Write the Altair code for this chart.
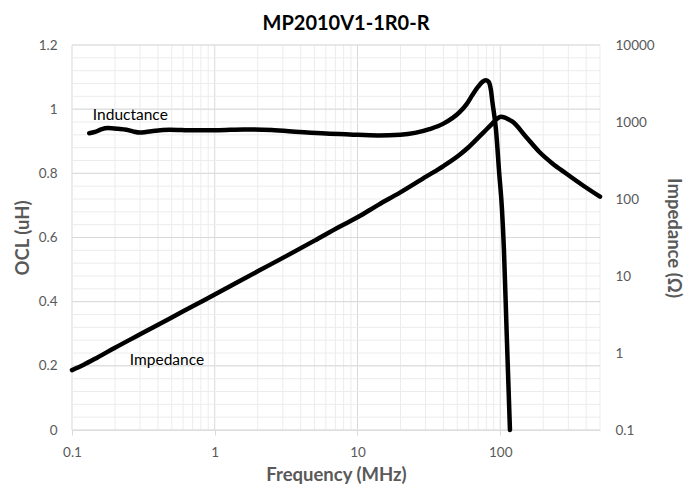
import altair as alt
import pandas as pd

# ---- data ----
ind_freq = [0.132, 0.145, 0.16, 0.179, 0.21, 0.241, 0.27, 0.299, 0.33, 0.37, 0.484, 0.705,
            1.03, 1.6, 2.5, 3.93, 6.0, 8.8, 14.0, 20.0, 31.9, 40.0, 51.7, 58.0, 64.0, 70.0,
            75.0, 79.0, 83.0, 86.0, 88.3, 93.3, 98.4, 102.8, 106.2, 111.0, 117.0]
ind_ocl = [0.925, 0.929, 0.937, 0.941, 0.939, 0.936, 0.93, 0.927, 0.929, 0.932, 0.936, 0.934,
           0.934, 0.937, 0.935, 0.929, 0.924, 0.921, 0.918, 0.92, 0.9375, 0.955, 0.99, 1.015,
           1.045, 1.07, 1.085, 1.09, 1.085, 1.06, 1.02, 0.9375, 0.80, 0.69, 0.56, 0.30, 0.0]

imp_freq = [0.1, 0.12, 0.15, 0.2, 0.3, 0.5, 0.7, 1, 2, 3, 5, 7.48, 10, 14, 19.7, 30.2, 40,
            51.7, 60, 71.3, 80, 88.3, 95, 101, 108, 115, 121.9, 151.3, 187.4, 232, 288, 376, 500]
imp_z = [0.6, 0.7, 0.87, 1.17, 1.75, 2.9, 4.05, 5.75, 11.5, 17.2, 28.8, 43.7, 57.8, 84, 120,
         195, 268, 373, 470, 645, 800, 962, 1100, 1172, 1140, 1075, 1009, 644, 411, 290, 216,
         152, 107]

ann_text = ["Inductance", "Impedance"]
ann_freq = [0.14, 0.254]
ann_ocl = [0.981, 0.219]

x_major = [0.1, 1, 10, 100]
x_minor = [0.2, 0.3, 0.4, 0.5, 0.6, 0.7, 0.8, 0.9,
           2, 3, 4, 5, 6, 7, 8, 9,
           20, 30, 40, 50, 60, 70, 80, 90,
           200, 300, 400, 500]
y_major = [0, 0.2, 0.4, 0.6, 0.8, 1.0, 1.2]
y_minor = [round(i * 0.04, 2) for i in range(31)]
z_ticks = [0.1, 1, 10, 100, 1000, 10000]

title_text = "MP2010V1-1R0-R"

# ---- tables ----
ind_df = pd.DataFrame({"freq": ind_freq, "ocl": ind_ocl})
imp_df = pd.DataFrame({"freq": imp_freq, "z": imp_z})
ann_df = pd.DataFrame({"label": ann_text, "freq": ann_freq, "ocl": ann_ocl})
xmaj_df = pd.DataFrame({"freq": x_major})
xmin_df = pd.DataFrame({"freq": x_minor})
ymaj_df = pd.DataFrame({"ocl": y_major})
ymin_df = pd.DataFrame({"ocl": y_minor})

GRAY = "#595959"
FONT = "Lato"

xscale = alt.Scale(type="log", domain=[0.1, 500], nice=False)
yscale = alt.Scale(domain=[0, 1.2], nice=False, zero=False)
zscale = alt.Scale(type="log", domain=[0.1, 10000], nice=False)

xaxis = alt.Axis(values=x_major, format="~g", title="Frequency (MHz)", grid=False,
                 domain=True, domainColor="#d9d9d9", ticks=True, tickColor="#d9d9d9",
                 tickSize=5, labelPadding=10, titlePadding=7, labelFlush=False,
                 labelFont=FONT, labelFontSize=13.5, labelColor=GRAY,
                 titleFont=FONT, titleFontSize=18.5, titleFontWeight="bold", titleColor=GRAY)
yaxis = alt.Axis(values=y_major, format="~g", title="OCL (uH)", grid=False, domain=False,
                 ticks=False, labelPadding=15, titlePadding=6, orient="left",
                 labelFont=FONT, labelFontSize=13.5, labelColor=GRAY,
                 titleFont=FONT, titleFontSize=18.5, titleFontWeight="bold", titleColor=GRAY)
zaxis = alt.Axis(values=z_ticks, format="~g", title="Impedance (Ω)", grid=False, domain=False,
                 ticks=False, labelPadding=15, titlePadding=9, orient="right",
                 labelFont=FONT, labelFontSize=13.5, labelColor=GRAY,
                 titleFont=FONT, titleFontSize=18.5, titleFontWeight="bold", titleColor=GRAY)


def X():
    return alt.X("freq:Q", scale=xscale, axis=xaxis)


def Y():
    return alt.Y("ocl:Q", scale=yscale, axis=yaxis)


gv_min = alt.Chart(xmin_df).mark_rule(color="#ececec", strokeWidth=1).encode(x=X())
gv_maj = alt.Chart(xmaj_df).mark_rule(color="#d9d9d9", strokeWidth=1).encode(x=X())
gh_min = alt.Chart(ymin_df).mark_rule(color="#ececec", strokeWidth=1).encode(y=Y())
gh_maj = alt.Chart(ymaj_df).mark_rule(color="#d9d9d9", strokeWidth=1).encode(y=Y())

ind_line = alt.Chart(ind_df).mark_line(color="black", strokeWidth=4.5, strokeCap="round",
                                       strokeJoin="round", interpolate="monotone").encode(
    x=X(), y=Y())

ann = alt.Chart(ann_df).mark_text(align="left", baseline="middle", font=FONT, fontSize=15.5,
                                  color="black").encode(x=X(), y=Y(), text="label:N")

left = alt.layer(gv_min, gv_maj, gh_min, gh_maj, ind_line, ann)

imp_line = alt.Chart(imp_df).mark_line(color="black", strokeWidth=4.5, strokeCap="round",
                                       strokeJoin="round", interpolate="monotone").encode(
    x=X(), y=alt.Y("z:Q", scale=zscale, axis=zaxis))

chart = alt.layer(left, imp_line).resolve_scale(y="independent").properties(
    width=528, height=385,
    title=alt.TitleParams(title_text, font=FONT, fontSize=20, fontWeight="bold",
                          color="black", anchor="middle", offset=4, dx=10),
    autosize=alt.AutoSizeParams(type="none"),
    padding={"left": 64, "top": 37, "right": 88, "bottom": 57},
).configure_view(stroke=None)

chart.save("out.html", embed_options={"renderer": "svg", "actions": False})
